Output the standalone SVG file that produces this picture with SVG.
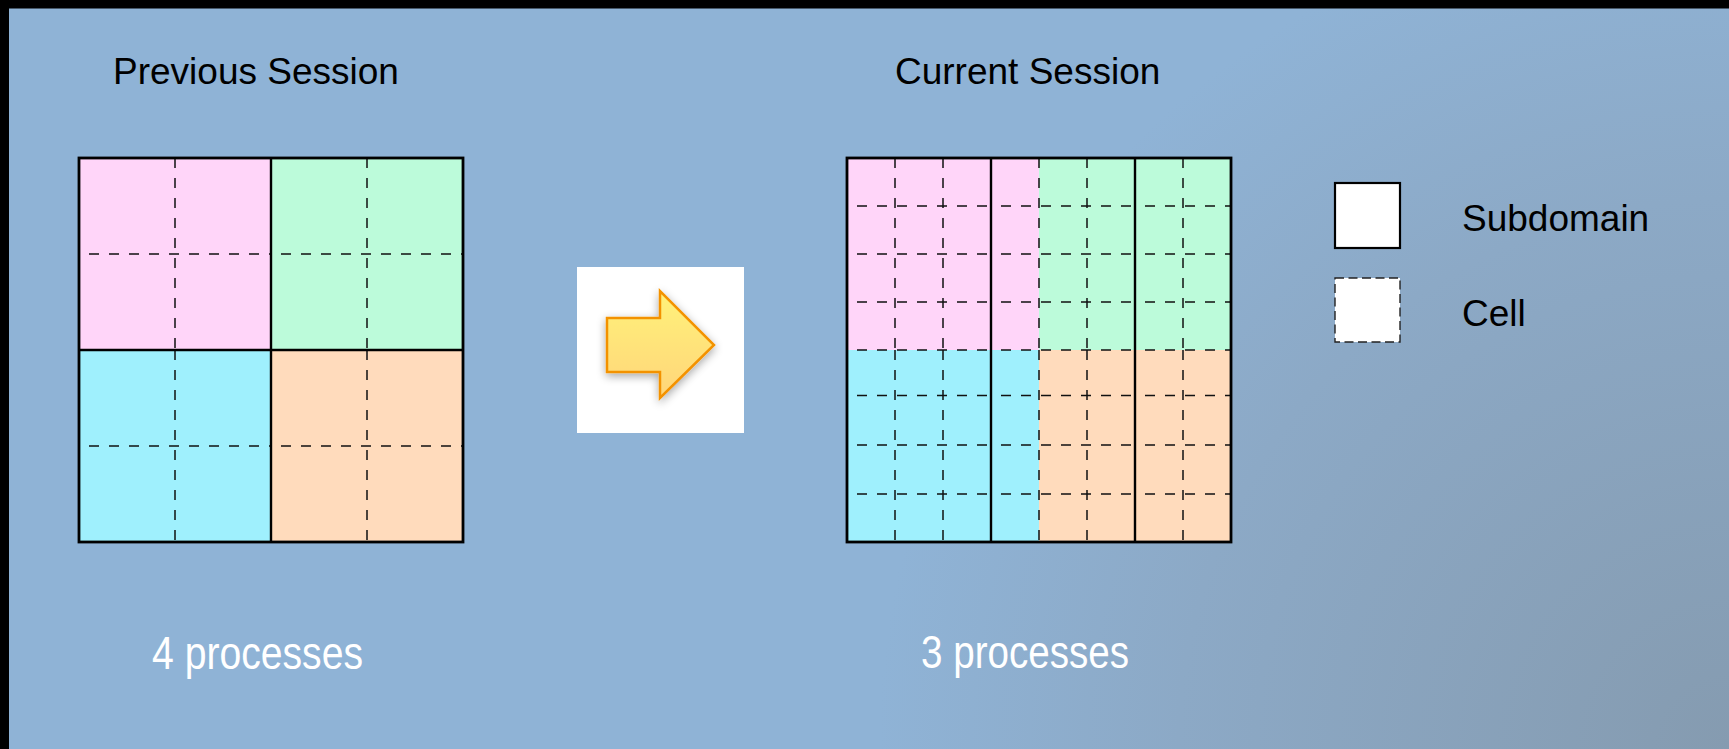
<svg xmlns="http://www.w3.org/2000/svg" width="1729" height="749" viewBox="0 0 1729 749">
<defs>
<radialGradient id="bg" cx="1729" cy="749" r="1000" gradientUnits="userSpaceOnUse">
<stop offset="0" stop-color="#859BB0"/>
<stop offset="0.55" stop-color="#8CA9C6"/>
<stop offset="0.85" stop-color="#8FB3D6"/>
<stop offset="1" stop-color="#8FB3D6"/>
</radialGradient>
<linearGradient id="arrowFill" x1="0" y1="0" x2="0" y2="1">
<stop offset="0" stop-color="#FFF27A"/>
<stop offset="1" stop-color="#FFD57A"/>
</linearGradient>
<filter id="shadow" x="-30%" y="-30%" width="160%" height="160%">
<feGaussianBlur in="SourceAlpha" stdDeviation="5"/>
<feOffset dx="0" dy="3" result="b"/>
<feComponentTransfer><feFuncA type="linear" slope="0.35"/></feComponentTransfer>
<feMerge><feMergeNode/><feMergeNode in="SourceGraphic"/></feMerge>
</filter>
<style>
.title{font-family:"Liberation Sans",Arial,sans-serif;font-size:37px;fill:#000}
.proc{font-family:"Liberation Sans Narrow","Liberation Sans",Arial,sans-serif;font-size:47px;fill:#fff}
.outer{fill:none;stroke:#000;stroke-width:2.8}
.solid{stroke:#000;stroke-width:2.4;fill:none}
.dh{stroke:#111;stroke-width:1.5;stroke-dasharray:10 10;stroke-dashoffset:10;fill:none}
.dv{stroke:#111;stroke-width:1.5;stroke-dasharray:10 10;fill:none}
.pink{fill:#FFD5F9}
.green{fill:#BCFBDA}
.cyan{fill:#9FF0FD}
.peach{fill:#FFDBBC}
</style>
</defs>
<rect x="0" y="0" width="1729" height="749" fill="url(#bg)"/>
<rect x="0" y="0" width="1729" height="8.5" fill="#000"/>
<rect x="0" y="0" width="9" height="749" fill="#000"/>

<g id="title-previous"><text class="title" x="113" y="84">Previous Session</text></g>
<g id="title-current"><text class="title" x="895" y="84">Current Session</text></g>

<g id="previous-grid">
<rect class="pink" x="79" y="158" width="192" height="192"/>
<rect class="green" x="271" y="158" width="192" height="192"/>
<rect class="cyan" x="79" y="350" width="192" height="192"/>
<rect class="peach" x="271" y="350" width="192" height="192"/>
<path class="dh" d="M79 254H271M271 254H463M79 446H271M271 446H463"/>
<path class="dv" d="M175 158V350M175 350V542M367 158V350M367 350V542"/>
<path class="solid" d="M271 158V542M79 350H463"/>
<rect class="outer" x="79" y="158" width="384" height="384"/>
</g>

<g id="arrow">
<rect x="577" y="267" width="167" height="166" fill="#fff"/>
<polygon points="607,318 660,318 660,291 714,345 660,398 660,372 607,372" fill="url(#arrowFill)" stroke="#F39200" stroke-width="2.5" stroke-linejoin="miter" filter="url(#shadow)"/>
</g>

<g id="current-grid">
<rect class="pink" x="847" y="158" width="192" height="192"/>
<rect class="green" x="1039" y="158" width="192" height="192"/>
<rect class="cyan" x="847" y="350" width="192" height="192"/>
<rect class="peach" x="1039" y="350" width="192" height="192"/>
<path class="dh" d="M847 206H991M991 206H1135M1135 206H1231M847 254H991M991 254H1135M1135 254H1231M847 302H991M991 302H1135M1135 302H1231M847 350H991M991 350H1135M1135 350H1231M847 395.5H991M991 395.5H1135M1135 395.5H1231M847 445H991M991 445H1135M1135 445H1231M847 494H991M991 494H1135M1135 494H1231"/>
<path class="dv" d="M895 158V350M895 350V542M943 158V350M943 350V542M1039 158V350M1039 350V542M1087 158V350M1087 350V542M1183 158V350M1183 350V542"/>
<path class="solid" d="M991 158V542M1135 158V542"/>
<rect class="outer" x="847" y="158" width="384" height="384"/>
</g>

<g id="legend-subdomain">
<rect x="1335" y="183" width="65" height="65" fill="#fff" stroke="#000" stroke-width="2.2"/>
<text class="title" x="1462" y="231">Subdomain</text>
</g>
<g id="legend-cell">
<rect x="1335" y="278" width="65" height="64" fill="#fff" stroke="#222" stroke-width="1.4" stroke-dasharray="9 4.5"/>
<text class="title" x="1462" y="326">Cell</text>
</g>

<g id="label-4"><text class="proc" x="152" y="669" textLength="211" lengthAdjust="spacingAndGlyphs">4 processes</text></g>
<g id="label-3"><text class="proc" x="921" y="668" textLength="208" lengthAdjust="spacingAndGlyphs">3 processes</text></g>
</svg>
